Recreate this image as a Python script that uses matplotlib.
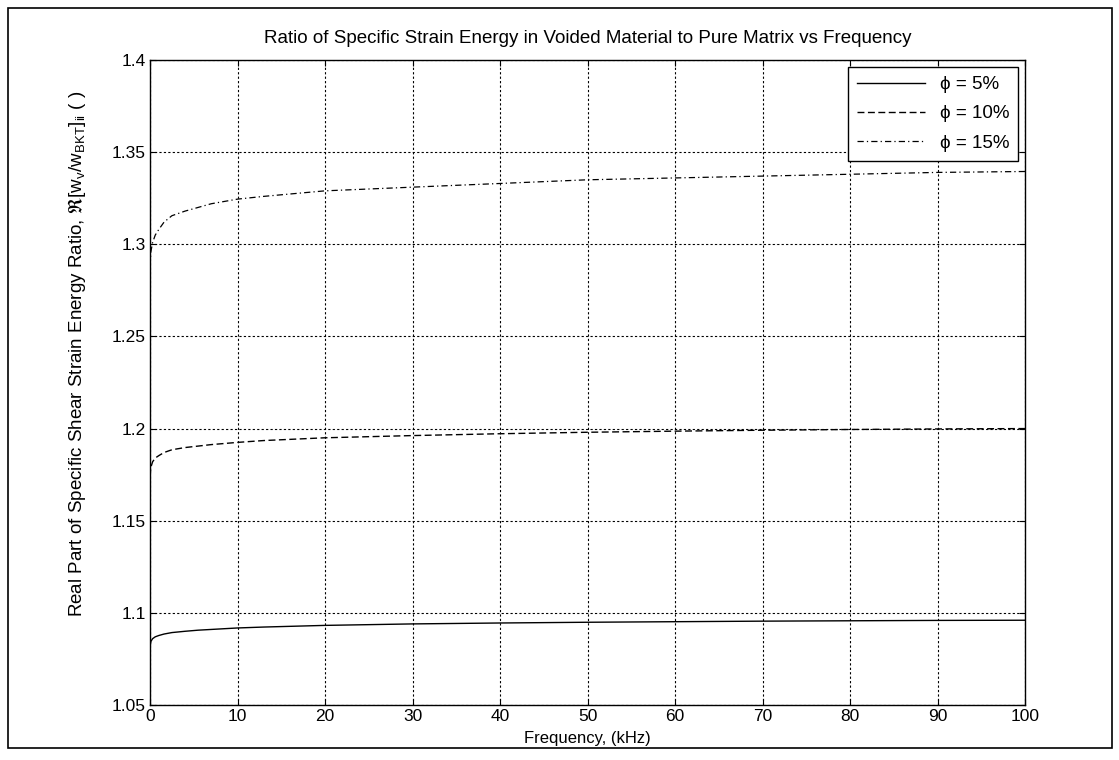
import matplotlib
matplotlib.use("Agg")
import matplotlib.pyplot as plt
from matplotlib.patches import Rectangle

plt.rcParams['font.family'] = ['Liberation Sans', 'DejaVu Sans']
plt.rcParams['mathtext.fontset'] = 'custom'
plt.rcParams['mathtext.rm'] = 'Liberation Sans'
plt.rcParams['mathtext.it'] = 'Liberation Sans:italic'
plt.rcParams['mathtext.fallback'] = 'stix'

# Data
freq_khz = [0, 0.1, 0.3, 0.6, 1, 1.6, 2.5, 4, 5.5, 7, 10, 13, 20, 30, 40, 50, 60, 70, 80, 90, 100]
ratio_5 = [1.0815, 1.0845, 1.086, 1.087, 1.0877, 1.0885, 1.0893, 1.09, 1.0906, 1.091, 1.0918,
           1.0923, 1.0932, 1.094, 1.0945, 1.0949, 1.0952, 1.0955, 1.0957, 1.0959, 1.096]
ratio_10 = [1.174, 1.179, 1.182, 1.184, 1.1853, 1.187, 1.1885, 1.1897, 1.1905, 1.1913, 1.1925,
            1.1935, 1.195, 1.1962, 1.1972, 1.198, 1.1986, 1.1991, 1.1995, 1.1998, 1.2]
ratio_15 = [1.288, 1.296, 1.301, 1.305, 1.308, 1.312, 1.3155, 1.318, 1.320, 1.322, 1.3245,
            1.326, 1.329, 1.331, 1.333, 1.335, 1.336, 1.337, 1.338, 1.339, 1.3395]
labels = ['\u03d5 = 5%', '\u03d5 = 10%', '\u03d5 = 15%']
x_ticks = [0, 10, 20, 30, 40, 50, 60, 70, 80, 90, 100]
y_ticks = [1.05, 1.1, 1.15, 1.2, 1.25, 1.3, 1.35, 1.4]
y_tick_labels = ['1.05', '1.1', '1.15', '1.2', '1.25', '1.3', '1.35', '1.4']

fig = plt.figure(figsize=(11.19, 7.6), dpi=100)
fig.patch.set_facecolor('white')
fig.add_artist(Rectangle((8/1119, 1 - 748/760), (1112 - 8)/1119, (748 - 8)/760,
                         transform=fig.transFigure, fill=False, edgecolor='black', linewidth=1.2))

ax = fig.add_axes([150/1119, 1 - 705/760, 875/1119, 645/760])
ax.plot(freq_khz, ratio_5, color='black', linestyle='-', linewidth=1.0, label=labels[0])
ax.plot(freq_khz, ratio_10, color='black', linestyle=(0, (5, 2.5)), linewidth=1.0, label=labels[1])
ax.plot(freq_khz, ratio_15, color='black', linestyle=(0, (5, 2.5, 1, 2.5)), linewidth=0.9, label=labels[2])

ax.set_xlim(0, 100)
ax.set_ylim(1.05, 1.4)
ax.set_xticks(x_ticks)
ax.set_yticks(y_ticks)
ax.set_yticklabels(y_tick_labels)
ax.tick_params(direction='in', top=True, right=True, labelsize=12.5, length=4, width=0.8, pad=3)
ax.grid(True, color='black', linestyle=(0, (2, 2)), linewidth=0.8)
for s in ax.spines.values():
    s.set_linewidth(1.0)

ax.set_title('Ratio of Specific Strain Energy in Voided Material to Pure Matrix vs Frequency',
             fontsize=13.5, pad=12)
ax.set_xlabel('Frequency, (kHz)', fontsize=12, labelpad=5)
ax.set_ylabel(r'Real Part of Specific Shear Strain Energy Ratio, $\Re[\mathrm{w}_\mathrm{v}/\mathrm{w}_\mathrm{BKT}]_\mathrm{ii}$ ( )',
              fontsize=13.5)
ax.yaxis.set_label_coords(-0.071, 0.545)

leg = ax.legend(loc='upper right', fontsize=13.5, handlelength=3.6, frameon=True, fancybox=False,
                framealpha=1, edgecolor='black', borderaxespad=0.35, labelspacing=0.65,
                handletextpad=0.8, borderpad=0.5)
leg.get_frame().set_linewidth(1.0)

fig.savefig('out.png', dpi=100)
